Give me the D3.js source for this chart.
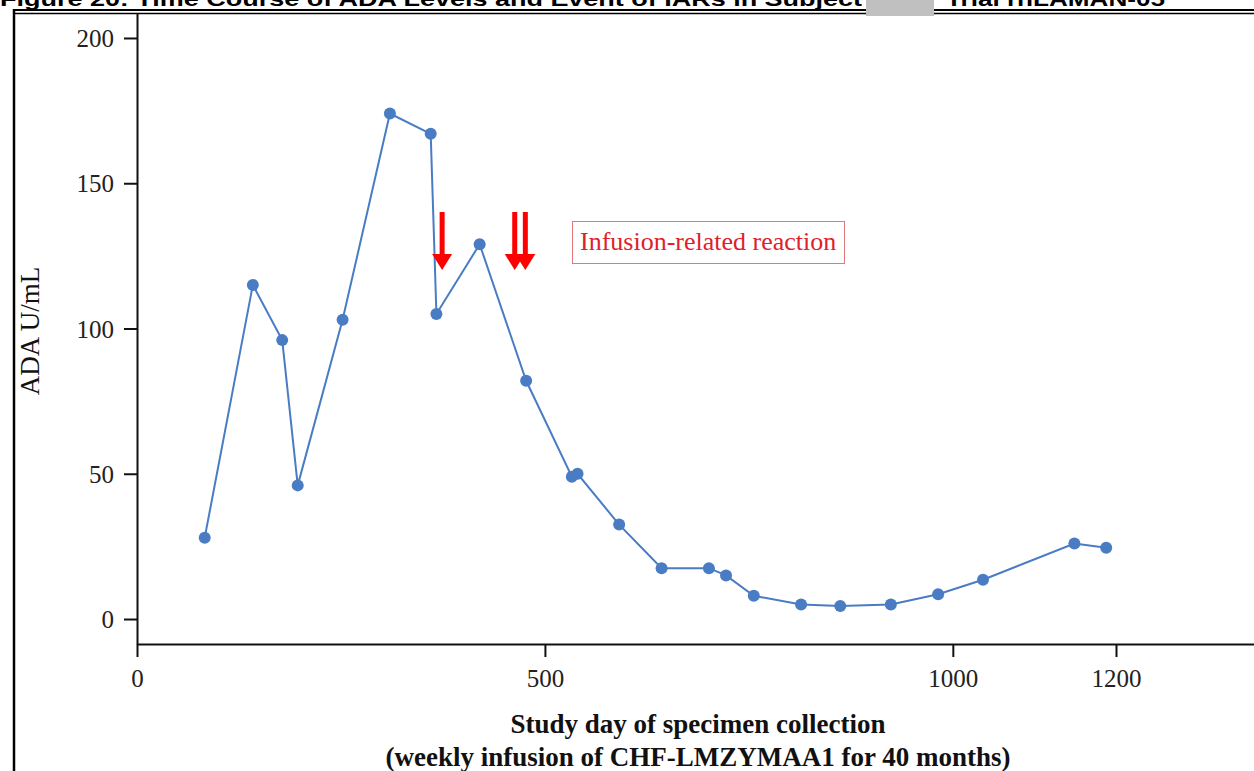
<!DOCTYPE html>
<html>
<head>
<meta charset="utf-8">
<script src="https://cdn.jsdelivr.net/npm/d3@7"></script>
<style>
  body { margin: 0; background: #fff; }
  svg { display: block; }
</style>
</head>
<body>
<div id="chart-area"></div>
<script>
// ADA levels per study day
const studyDay = [83, 142, 178, 197, 252, 310, 360, 367, 420, 477, 533, 540, 591, 643,
                  701, 722, 756, 814, 862, 924, 982, 1037, 1149, 1188];
const adaLevel = [28, 115, 96, 46, 103, 174, 167, 105, 129, 82, 49, 50, 32.5, 17.5,
                  17.5, 15, 8, 5, 4.5, 5, 8.5, 13.5, 26, 24.5];
// days with infusion-related reactions
const iarDays = [374, 463, 476];
const xTicks = [0, 500, 1000, 1200];
const yTicks = [0, 50, 100, 150, 200];

const W = 1254, H = 771;
const plotLeft = 137, plotBottom = 644, plotTop = 13;
const serif = "Liberation Serif, Times New Roman, serif";

var svg = d3.select("#chart-area")
    .append("svg")
        .attr("width", W)
        .attr("height", H);

// title (cut off at top of the page, as in the source)
svg.append("text")
    .attr("x", 0)
    .attr("y", 6)
    .attr("font-family", "Liberation Sans, Arial, sans-serif")
    .attr("font-weight", "bold")
    .attr("font-size", "20px")
    .attr("textLength", 862)
    .attr("lengthAdjust", "spacingAndGlyphs")
    .text("Figure 20: Time Course of ADA Levels and Event of IARs in Subject");
svg.append("text")
    .attr("x", 946)
    .attr("y", 6)
    .attr("font-family", "Liberation Sans, Arial, sans-serif")
    .attr("font-weight", "bold")
    .attr("font-size", "20px")
    .attr("textLength", 219)
    .attr("lengthAdjust", "spacingAndGlyphs")
    .text("Trial rhLAMAN-05");

// frame lines
svg.append("line").attr("x1", 13).attr("x2", W).attr("y1", 10).attr("y2", 10)
    .attr("stroke", "#000").attr("stroke-width", 2);
svg.append("line").attr("x1", 13).attr("x2", W).attr("y1", 13.5).attr("y2", 13.5)
    .attr("stroke", "#000").attr("stroke-width", 1.5);
svg.append("line").attr("x1", 14).attr("x2", 14).attr("y1", 9).attr("y2", H)
    .attr("stroke", "#000").attr("stroke-width", 2.5);
svg.append("rect").attr("x", 866).attr("y", 0).attr("width", 68).attr("height", 16)
    .attr("fill", "#c0c0c0");

// scales
var x = d3.scaleLinear()
    .domain([0, 1200])
    .range([plotLeft, 1116]);
var xAxisScale = x.copy().domain([0, 1375]).range([plotLeft, x(1375)]);

var y = d3.scaleLinear()
    .domain([-8.6, 208.6])
    .range([plotBottom, plotTop]);

// axes
var yAxis = svg.append("g")
    .attr("transform", "translate(" + plotLeft + ",0)")
    .call(d3.axisLeft(y).tickValues(yTicks).tickSize(13).tickSizeOuter(0).tickPadding(10)
        .tickFormat(d3.format("d")));
var xAxis = svg.append("g")
    .attr("transform", "translate(0," + plotBottom + ")")
    .call(d3.axisBottom(xAxisScale).tickValues(xTicks).tickSize(13).tickSizeOuter(0).tickPadding(12)
        .tickFormat(d3.format("d")));

for (let ax of [xAxis, yAxis]) {
    ax.select(".domain").attr("stroke", "#111").attr("stroke-width", 2);
    ax.selectAll(".tick line").attr("stroke", "#111").attr("stroke-width", 2);
    ax.selectAll(".tick text")
        .attr("font-family", serif)
        .attr("font-size", "25px")
        .attr("fill", "#222");
}
yAxis.selectAll(".tick text").attr("dy", "0.34em");

// axis labels
svg.append("text")
    .attr("transform", "rotate(-90)")
    .attr("x", -331)
    .attr("y", 39)
    .attr("text-anchor", "middle")
    .attr("font-family", serif)
    .attr("font-size", "27px")
    .attr("fill", "#111")
    .text("ADA U/mL");
svg.append("text")
    .attr("x", 698)
    .attr("y", 733)
    .attr("text-anchor", "middle")
    .attr("font-family", serif)
    .attr("font-weight", "bold")
    .attr("font-size", "27px")
    .attr("fill", "#111")
    .text("Study day of specimen collection");
svg.append("text")
    .attr("x", 698)
    .attr("y", 766)
    .attr("text-anchor", "middle")
    .attr("font-family", serif)
    .attr("font-weight", "bold")
    .attr("font-size", "27px")
    .attr("fill", "#111")
    .text("(weekly infusion of CHF-LMZYMAA1 for 40 months)");

// series
let points = studyDay.map((d, i) => ({ day: d, ada: adaLevel[i] }));
var line = d3.line()
    .x(d => x(d.day))
    .y(d => y(d.ada));
svg.append("path")
    .datum(points)
    .attr("d", line)
    .attr("fill", "none")
    .attr("stroke", "#4a7cc4")
    .attr("stroke-width", 2);
svg.selectAll("circle.pt")
    .data(points)
    .enter()
    .append("circle")
        .attr("class", "pt")
        .attr("cx", d => x(d.day))
        .attr("cy", d => y(d.ada))
        .attr("r", 6)
        .attr("fill", "#4a7cc4");

// IAR arrows
let arrowTop = 212, arrowBase = 254, arrowTip = 270;
for (let day of iarDays) {
    let ax = x(day);
    svg.append("rect")
        .attr("x", ax - 2.5)
        .attr("y", arrowTop)
        .attr("width", 5)
        .attr("height", arrowBase - arrowTop + 1)
        .attr("fill", "#ff0000");
    svg.append("path")
        .attr("d", `M${ax - 10},${arrowBase} L${ax + 10},${arrowBase} L${ax},${arrowTip} Z`)
        .attr("fill", "#ff0000");
}

// legend
svg.append("rect")
    .attr("x", 572.5)
    .attr("y", 221.5)
    .attr("width", 272)
    .attr("height", 42)
    .attr("fill", "none")
    .attr("stroke", "#e07a7a")
    .attr("stroke-width", 1);
svg.append("text")
    .attr("x", 580)
    .attr("y", 250)
    .attr("font-family", serif)
    .attr("font-size", "26px")
    .attr("fill", "#e0202a")
    .text("Infusion-related reaction");
</script>
</body>
</html>
